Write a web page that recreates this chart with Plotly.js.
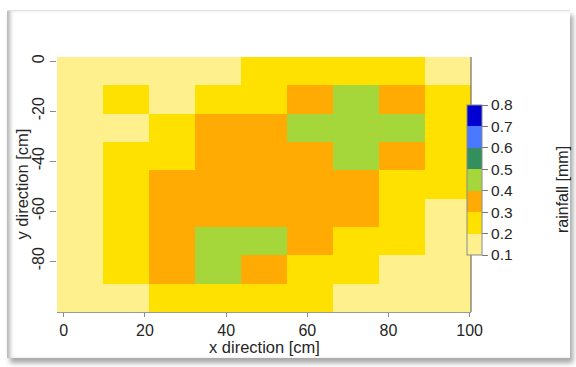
<!DOCTYPE html>
<html>
<head>
<meta charset="utf-8">
<script src="https://cdn.plot.ly/plotly-3.0.1.min.js"></script>
<style>
  html, body { margin: 0; padding: 0; background: #ffffff; }
  #wrap { position: relative; width: 576px; height: 367px; overflow: hidden; background: #fff; }
  #chart { position: absolute; left: 0; top: 0; width: 576px; height: 367px; }
  #frame {
    position: absolute; left: 7px; top: 10px; width: 563px; height: 347px;
    border-top: 1px solid #e2e2e2;
    box-shadow: inset 5px 0 4px -2px rgba(0,0,0,0.30), 3px 5px 5px rgba(0,0,0,0.35);
    pointer-events: none;
  }
</style>
</head>
<body>
<div id="wrap">
  <div id="chart"></div>
  <div id="frame"></div>
</div>
<script>
// grid cell centres (cm)
const xCenters = [4, 15.33, 26.67, 38, 49.33, 60.67, 72, 83.33, 94.67];
const yCenters = [-4, -15.33, -26.67, -38, -49.33, -60.67, -72, -83.33, -94.67];

// rainfall [mm], one row per y centre (top to bottom), columns left to right
const rainfall = [
  [0.15, 0.15, 0.15, 0.15, 0.25, 0.25, 0.25, 0.25, 0.15],
  [0.15, 0.25, 0.15, 0.25, 0.25, 0.35, 0.45, 0.35, 0.25],
  [0.15, 0.15, 0.25, 0.35, 0.35, 0.45, 0.45, 0.45, 0.25],
  [0.15, 0.25, 0.25, 0.35, 0.35, 0.35, 0.45, 0.35, 0.25],
  [0.15, 0.25, 0.35, 0.35, 0.35, 0.35, 0.35, 0.25, 0.25],
  [0.15, 0.25, 0.35, 0.35, 0.35, 0.35, 0.35, 0.25, 0.15],
  [0.15, 0.25, 0.35, 0.45, 0.45, 0.35, 0.25, 0.25, 0.15],
  [0.15, 0.25, 0.35, 0.45, 0.35, 0.25, 0.25, 0.15, 0.15],
  [0.15, 0.15, 0.25, 0.25, 0.25, 0.25, 0.15, 0.15, 0.15]
];

// colour classes
const classBreaks = [0.1, 0.2, 0.3, 0.4, 0.5, 0.6, 0.7, 0.8];
const classColors = ['#FFF08E', '#FFE100', '#FFAB04', '#A6D73A', '#338F5E', '#4A78FF', '#0000D2'];

const xTicks = [0, 20, 40, 60, 80, 100];
const yTicks = [0, -20, -40, -60, -80];

const zmin = classBreaks[0], zmax = classBreaks[classBreaks.length - 1];
const colorscale = [];
classColors.forEach((c, i) => {
  const a = (classBreaks[i] - zmin) / (zmax - zmin);
  const b = (classBreaks[i + 1] - zmin) / (zmax - zmin);
  colorscale.push([a, c]);
  colorscale.push([b, c]);
});

const FONT = 'Arial, "Liberation Sans", sans-serif';
const TXT = '#262626';

const W = 576, H = 367;
const mL = 57, mR = 105, mT = 57, mB = 55;
const plotW = W - mL - mR, plotH = H - mT - mB;
const px2x = p => (p - mL) / plotW;
const py2y = p => (H - mB - p) / plotH;

const trace = {
  type: 'heatmap',
  x: xCenters,
  y: yCenters,
  z: rainfall,
  zmin: zmin,
  zmax: zmax,
  colorscale: colorscale,
  showscale: true,
  hoverinfo: 'skip',
  colorbar: {
    x: px2x(466.7),
    xanchor: 'left',
    xpad: 0,
    ypad: 0,
    y: py2y(180),
    yanchor: 'middle',
    len: 150,
    lenmode: 'pixels',
    thickness: 15,
    thicknessmode: 'pixels',
    outlinewidth: 1,
    outlinecolor: '#8a8a8a',
    tickmode: 'array',
    tickvals: classBreaks,
    ticktext: classBreaks.map(v => v.toFixed(1)),
    ticks: 'outside',
    ticklen: 6,
    tickcolor: '#777',
    tickfont: { family: FONT, size: 15.5, color: TXT }
  }
};

const layout = {
  width: W,
  height: H,
  margin: { l: mL, r: mR, t: mT, b: mB, pad: 0 },
  paper_bgcolor: '#ffffff',
  plot_bgcolor: '#ffffff',
  font: { family: FONT, color: TXT },
  showlegend: false,
  xaxis: {
    range: [-1.67, 100.33],
    tickmode: 'array',
    tickvals: xTicks,
    ticktext: xTicks.map(String),
    ticks: 'outside',
    ticklen: 4,
    tickcolor: '#8a8a8a',
    showline: true,
    linecolor: '#9a9a9a',
    linewidth: 1,
    showgrid: false,
    zeroline: false,
    automargin: false,
    tickfont: { family: FONT, size: 16, color: TXT }
  },
  yaxis: {
    range: [-100.33, 1.67],
    tickmode: 'array',
    tickvals: yTicks,
    ticktext: yTicks.map(String),
    tickangle: -90,
    ticks: 'outside',
    ticklen: 6,
    tickcolor: '#8a8a8a',
    showline: false,
    showgrid: false,
    zeroline: false,
    automargin: false,
    tickfont: { family: FONT, size: 16, color: TXT }
  },
  shapes: [
    { type: 'line', xref: 'paper', yref: 'paper', x0: 1, x1: 1, y0: 0, y1: 1,
      line: { color: '#555', width: 1 } }
  ],
  annotations: [
    { text: 'x direction [cm]', xref: 'paper', yref: 'paper',
      x: 0.5, y: py2y(347), xanchor: 'center', yanchor: 'middle', showarrow: false,
      font: { family: FONT, size: 16.5, color: TXT } },
    { text: 'y direction [cm]', xref: 'paper', yref: 'paper',
      x: px2x(21), y: 0.5, xanchor: 'center', yanchor: 'middle', textangle: -90, showarrow: false,
      font: { family: FONT, size: 16.5, color: TXT } },
    { text: 'rainfall [mm]', xref: 'paper', yref: 'paper',
      x: px2x(563), y: py2y(190),
      xanchor: 'center', yanchor: 'middle', textangle: -90, showarrow: false,
      font: { family: FONT, size: 16, color: TXT } }
  ]
};

Plotly.newPlot('chart', [trace], layout, { staticPlot: true, displayModeBar: false });
</script>
</body>
</html>
